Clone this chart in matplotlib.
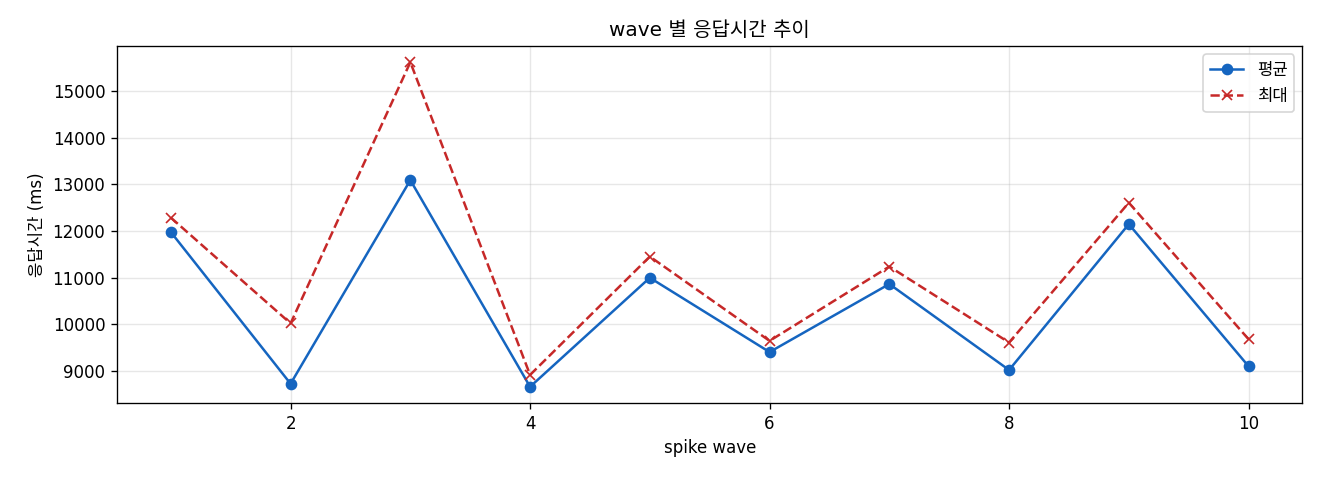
import matplotlib
matplotlib.use("Agg")
import matplotlib.pyplot as plt

plt.rcParams["font.family"] = ["DejaVu Sans", "Noto Sans CJK KR"]
plt.rcParams["axes.unicode_minus"] = False

waves = [1, 2, 3, 4, 5, 6, 7, 8, 9, 10]
mean_ms = [11975, 8720, 13090, 8655, 10995, 9400, 10860, 9015, 12145, 9095]
max_ms = [12285, 10015, 15620, 8910, 11450, 9640, 11235, 9605, 12605, 9675]

fig, ax = plt.subplots(figsize=(11, 4), dpi=120)
ax.plot(waves, mean_ms, marker="o", color="#1565C0", label="평균")
ax.plot(waves, max_ms, marker="x", linestyle="--", color="#C62828", label="최대")
ax.set_title("wave 별 응답시간 추이")
ax.set_xlabel("spike wave")
ax.set_ylabel("응답시간 (ms)")
ax.grid(True, alpha=0.3)
ax.legend(loc="upper right")
fig.subplots_adjust(left=0.0886, right=0.9867, top=0.9042, bottom=0.1604)
fig.savefig("out.png")
